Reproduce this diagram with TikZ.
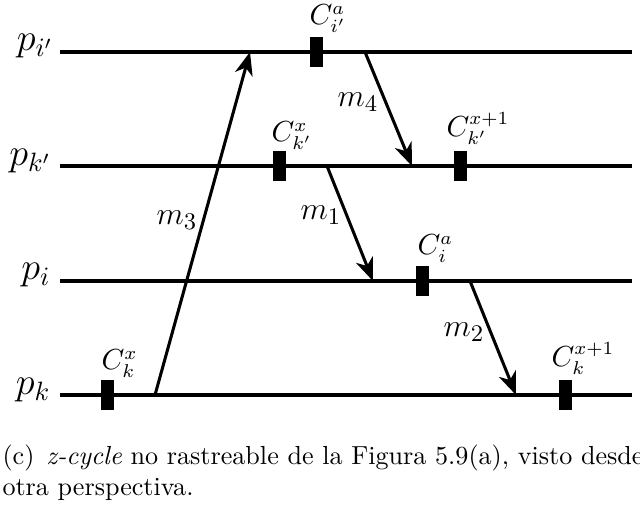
\documentclass[tikz,border=0pt]{standalone}
\usetikzlibrary{arrows.meta}
\begin{document}
\begin{tikzpicture}[x=0.37736pt,y=-0.37736pt,
  procline/.style={line width=1.15pt},
  msg/.style={line width=1.15pt,-{Stealth[length=8.7pt,width=6.8pt,inset=2.6pt]}},
  ckpt/.style={rectangle,fill=black,draw=none,minimum width=4.9pt,minimum height=11.3pt,inner sep=0pt},
  plabel/.style={anchor=base east,inner sep=0pt,font=\fontsize{14}{16}\selectfont},
  mlabel/.style={anchor=base west,inner sep=0pt,font=\fontsize{13.1}{15}\selectfont},
  clabel/.style={anchor=base west,inner sep=0pt,font=\fontsize{10.6}{12}\selectfont},
  captext/.style={anchor=base west,inner sep=0pt,font=\fontsize{9.85}{12}\selectfont}]
\useasboundingbox (0,0) rectangle (640,516);
% process lines
\coordinate (a0) at (60,52);  \coordinate (a1) at (632,52);
\coordinate (b0) at (60,166); \coordinate (b1) at (632,166);
\coordinate (c0) at (60,281); \coordinate (c1) at (632,281);
\coordinate (d0) at (60,395); \coordinate (d1) at (632,395);
\draw[procline] (a0) -- (a1);
\draw[procline] (b0) -- (b1);
\draw[procline] (c0) -- (c1);
\draw[procline] (d0) -- (d1);
% process labels
\node[plabel] (la) at (54,51) {$p_{i'}$};
\node[plabel] (lb) at (52,166) {$p_{k'}$};
\node[plabel] (lc) at (51,280) {$p_i$};
\node[plabel] (ld) at (51,395) {$p_k$};
% checkpoints
\node[ckpt] (cka) at (316.5,52) {};
\node[ckpt] (ckb1) at (279.5,166) {};
\node[ckpt] (ckb2) at (460,166) {};
\node[ckpt] (ckc) at (422.5,281) {};
\node[ckpt] (ckd1) at (107.5,395) {};
\node[ckpt] (ckd2) at (565.5,395) {};
% checkpoint labels
\node[clabel] (tcka) at (309,25) {$C^a_{i'}$};
\node[clabel] (tckb1) at (271,142) {$C^x_{k'}$};
\node[clabel] (tckb2) at (446,137) {$C^{x+1}_{k'}$};
\node[clabel] (tckc) at (417,255) {$C^a_i$};
\node[clabel] (tckd1) at (101,370) {$C^x_k$};
\node[clabel] (tckd2) at (551,367) {$C^{x+1}_k$};
% messages
\coordinate (m3s) at (155,395); \coordinate (m3e) at (250,52);
\coordinate (m4s) at (365,52);  \coordinate (m4e) at (412,166);
\coordinate (m1s) at (327,166); \coordinate (m1e) at (373,281);
\coordinate (m2s) at (470,281); \coordinate (m2e) at (516,395);
\draw[msg] (m3s) -- (m3e);
\draw[msg] (m4s) -- (m4e);
\draw[msg] (m1s) -- (m1e);
\draw[msg] (m2s) -- (m2e);
\node[mlabel] (lm3) at (156,225) {$m_3$};
\node[mlabel] (lm4) at (337,107) {$m_4$};
\node[mlabel] (lm1) at (300,220) {$m_1$};
\node[mlabel] (lm2) at (443,337) {$m_2$};
% caption
\node[captext] (cap1) at (2,465) {(c)\hspace{4.5pt}\textit{z-cycle} no rastreable de la Figura 5.9(a), visto desde};
\node[captext] (cap2) at (2,495) {otra perspectiva.};
\end{tikzpicture}
\end{document}
